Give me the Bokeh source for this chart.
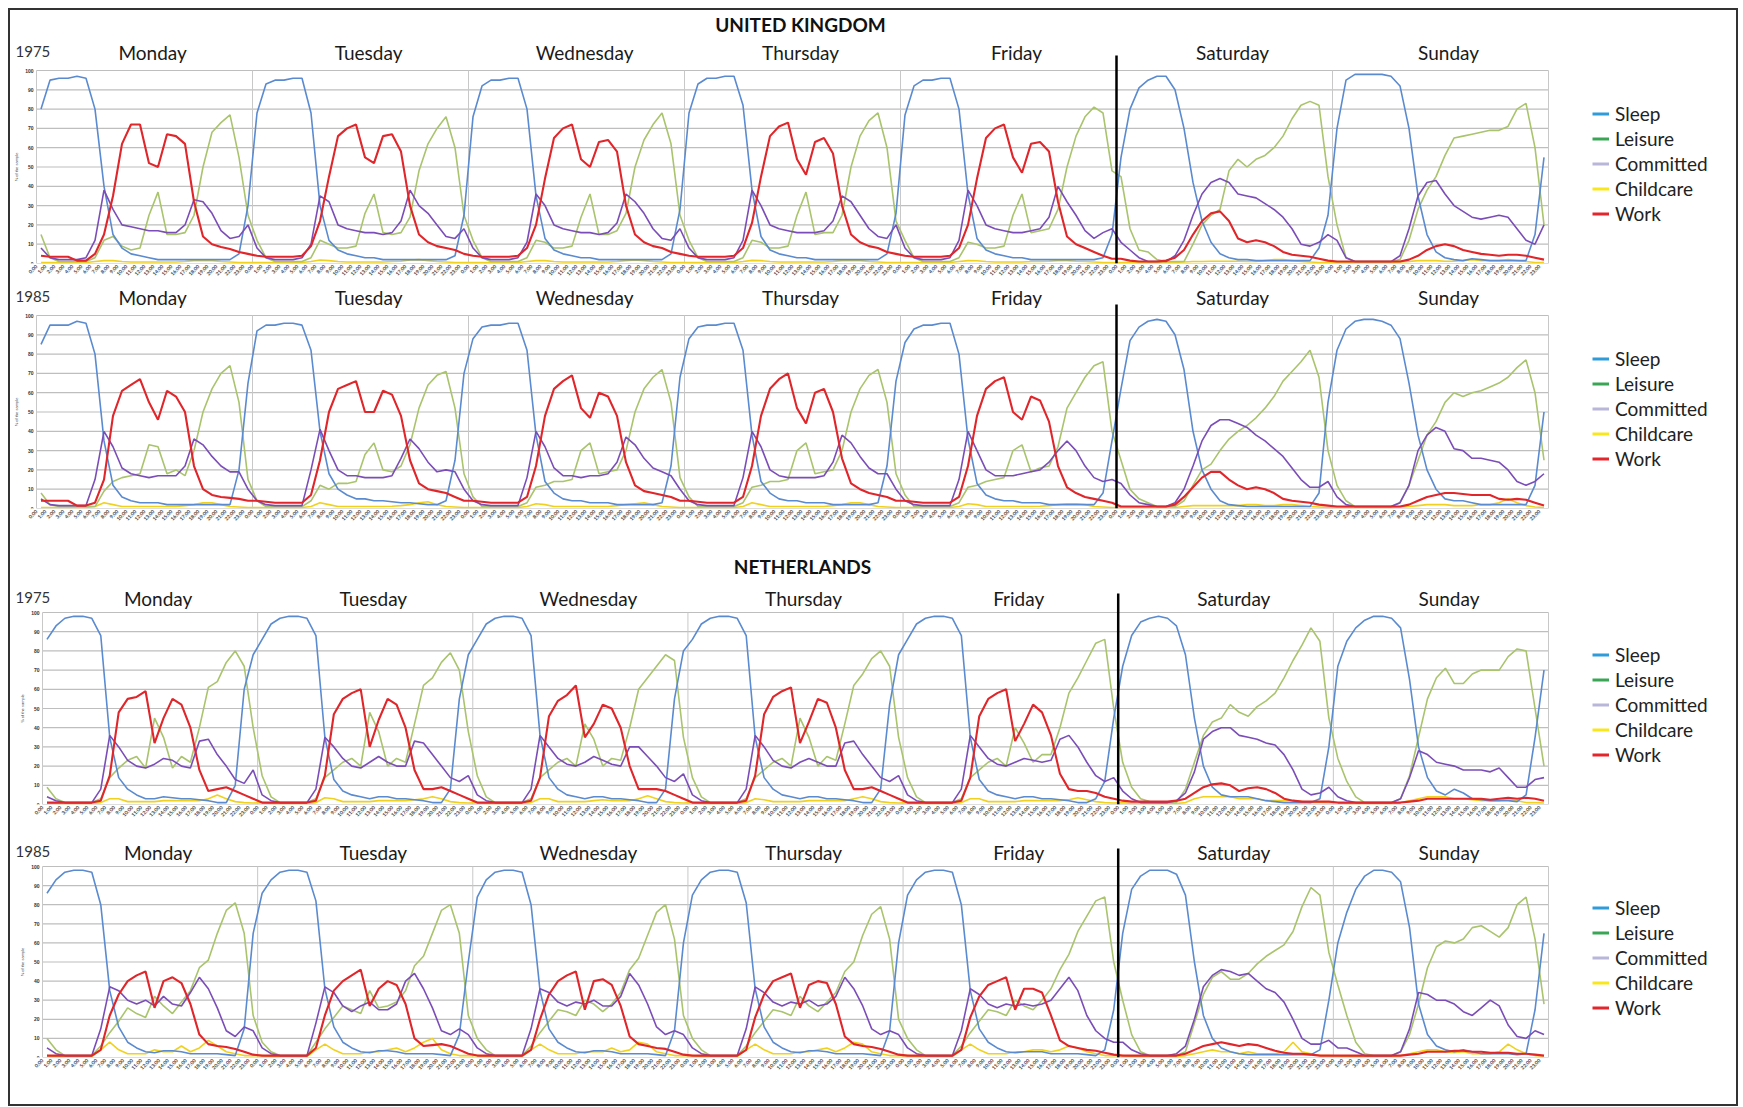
import math
from bokeh.plotting import figure
from bokeh.models import ColumnDataSource, FixedTicker, Label, Legend, LegendItem, Range1d
from bokeh.layouts import column
from bokeh.embed import file_html
from bokeh.resources import INLINE

# ---------------- data ----------------
DAYS = ["Monday", "Tuesday", "Wednesday", "Thursday", "Friday", "Saturday", "Sunday"]
HOUR_LABELS = [f"{h}:00" for h in range(24)]
SERIES = ["Sleep", "Leisure", "Committed", "Childcare", "Work"]
Y_TICKS = list(range(0, 101, 10))

# United Kingdom 1975 (% of the sample, hourly, Mon..Sun)
UK75_SLEEP = [
    80, 95, 96, 96, 97, 96, 80, 40, 15, 8, 5, 4, 3, 2, 2, 2, 2, 2, 2, 2, 2, 2, 5, 30,
    78, 93, 95, 95, 96, 96, 78, 30, 12, 7, 5, 4, 3, 3, 2, 2, 2, 2, 2, 2, 2, 2, 4, 25,
    76, 92, 95, 95, 96, 96, 80, 35, 13, 7, 5, 4, 3, 3, 2, 2, 2, 2, 2, 2, 2, 2, 5, 28,
    78, 93, 96, 96, 97, 97, 82, 38, 14, 7, 5, 4, 3, 3, 2, 2, 2, 2, 2, 2, 2, 2, 5, 26,
    77, 92, 95, 95, 96, 96, 80, 36, 13, 7, 5, 4, 3, 3, 2, 2, 2, 2, 2, 2, 2, 2, 3, 15,
    55, 80, 91, 95, 97, 97, 90, 70, 42, 22, 11, 5, 3, 2, 2, 1.5, 1.5, 1.5, 1.5, 1.5, 1.5, 1.5, 8, 25,
    70, 95, 98, 98, 98, 98, 97, 92, 70, 35, 15, 6, 3, 2, 1.5, 2.5, 2, 1.5, 1.5, 1.5, 1.5, 1.5, 15, 55,
]
UK75_LEISURE = [
    15, 3, 1, 1, 1, 1, 3, 12, 14, 9, 7, 8, 25, 37, 15, 15, 16, 25, 50, 68, 73, 77, 55, 25,
    12, 3, 1, 1, 1, 1, 3, 12, 10, 8, 8, 9, 26, 36, 16, 15, 16, 24, 48, 62, 70, 76, 60, 25,
    12, 3, 1, 1, 1, 1, 3, 12, 11, 8, 8, 9, 24, 36, 15, 15, 17, 26, 50, 64, 72, 78, 62, 25,
    12, 3, 1, 1, 1, 1, 3, 12, 11, 8, 8, 9, 25, 37, 15, 16, 16, 25, 50, 66, 74, 78, 60, 22,
    12, 3, 1, 1, 1, 1, 3, 11, 10, 8, 8, 9, 25, 36, 16, 17, 18, 28, 50, 66, 76, 81, 78, 48,
    45, 18, 7, 6, 2, 1, 1, 1, 10, 20, 25, 28, 48, 54, 50, 54, 56, 60, 66, 75, 82, 84, 82, 45,
    20, 3, 1, 1, 1, 1, 1, 2, 12, 28, 38, 45, 56, 65, 66, 67, 68, 69, 69, 71, 80, 83, 60, 20,
]
UK75_COMMITTED = [
    8, 3, 2, 2, 2, 3, 12, 38, 28, 20, 19, 18, 17, 17, 16, 16, 20, 33, 32, 26, 17, 13, 14, 20,
    8, 3, 2, 2, 2, 3, 10, 35, 32, 20, 18, 17, 16, 16, 15, 16, 22, 38, 30, 26, 20, 14, 13, 18,
    8, 3, 2, 2, 2, 3, 11, 36, 30, 20, 18, 17, 16, 16, 15, 16, 21, 36, 32, 26, 18, 13, 12, 18,
    8, 3, 2, 2, 2, 3, 12, 38, 30, 20, 18, 17, 16, 16, 16, 17, 22, 35, 32, 25, 18, 14, 13, 20,
    8, 3, 2, 2, 2, 3, 12, 38, 30, 20, 18, 17, 16, 16, 17, 18, 24, 40, 32, 25, 17, 13, 16, 18,
    11, 7, 3, 1, 1, 1, 4, 12, 25, 36, 42, 44, 42, 36, 35, 34, 31, 28, 24, 18, 10, 9, 11, 15,
    12, 3, 1, 1, 1, 1, 1, 4, 18, 35, 42, 43, 36, 30, 27, 24, 23, 24, 25, 24, 18, 12, 10, 20,
]
UK75_CHILDCARE = [
    0.5, 0.5, 0.5, 0.5, 0.5, 0.5, 1, 1.5, 1.5, 1, 0.8, 0.8, 0.8, 0.8, 0.8, 0.8, 1, 1.5, 1.5, 1.5, 1, 0.8, 0.5, 0.5,
    0.5, 0.5, 0.5, 0.5, 0.5, 0.5, 1, 1.8, 1.5, 1, 0.8, 0.8, 0.8, 0.8, 0.8, 1, 1.2, 1.8, 2, 1.5, 1, 0.8, 0.5, 0.5,
    0.5, 0.5, 0.5, 0.5, 0.5, 0.5, 1, 1.5, 1.5, 1, 0.8, 0.8, 0.8, 0.8, 0.8, 0.8, 1, 1.5, 1.8, 1.5, 1, 0.8, 0.5, 0.5,
    0.5, 0.5, 0.5, 0.5, 0.5, 0.5, 1, 1.6, 1.5, 1, 0.8, 0.8, 0.8, 0.8, 0.8, 0.8, 1, 1.5, 1.5, 1.5, 1, 0.8, 0.5, 0.5,
    0.5, 0.5, 0.5, 0.5, 0.5, 0.5, 1, 1.5, 1.4, 1, 0.8, 0.8, 0.8, 0.8, 1, 1, 1.2, 1.5, 1.5, 1.2, 1, 0.8, 0.5, 0.5,
    0.5, 0.5, 0.5, 0.5, 0.5, 0.5, 0.5, 0.8, 1, 1, 1.2, 1.2, 1.2, 1.2, 1, 1, 1.5, 2, 2, 1.5, 1, 0.8, 0.5, 0.5,
    0.5, 0.5, 0.5, 0.5, 0.5, 0.5, 0.5, 0.8, 1, 1.5, 1.5, 1.5, 1.2, 1.2, 1.5, 2, 1.5, 1.5, 1.5, 2, 1.5, 1, 0.5, 0.5,
]
UK75_WORK = [
    4, 3.5, 3.5, 3.5, 1.5, 1.5, 5, 15, 35, 62, 72, 72, 52, 50, 67, 66, 62, 32, 14, 10, 8.5, 7.5, 6, 5,
    4, 3.5, 3.5, 3.5, 3.5, 4, 9, 22, 45, 66, 70, 72, 55, 52, 66, 67, 58, 30, 15, 11, 9, 8, 7, 5,
    4, 3.5, 3.5, 3.5, 3.5, 4, 8, 20, 44, 65, 70, 72, 54, 50, 63, 64, 58, 30, 15, 11, 9, 8, 6, 5,
    4, 3.5, 3.5, 3.5, 3.5, 4, 8, 21, 45, 66, 71, 73, 54, 46, 63, 65, 57, 30, 15, 11, 9, 8, 6, 5,
    4, 3.5, 3.5, 3.5, 3.5, 4, 8, 20, 44, 65, 70, 72, 55, 47, 62, 63, 58, 32, 14, 10, 8, 6, 4, 2.5,
    2.5, 1.5, 1, 1, 1, 1.5, 3, 7, 15, 22, 26, 27, 22, 13, 11, 12, 11, 9, 6, 4.5, 4, 3.5, 2.5, 1.5,
    1, 1, 1, 1, 1, 1, 1, 1, 2, 4, 7, 9, 10, 9, 7, 6, 5, 4.5, 4, 4.5, 4.5, 4, 3, 2,
]

# United Kingdom 1985
UK85_SLEEP = [
    85, 95, 95, 95, 97, 96, 80, 35, 12, 6, 4, 3, 3, 3, 2, 2, 2, 2, 2, 2, 2, 2, 20, 65,
    92, 95, 95, 96, 96, 95, 82, 40, 18, 10, 7, 5, 5, 4, 4, 3.5, 3, 3, 2.5, 2, 2, 4, 25, 70,
    88, 94, 95, 95, 96, 96, 82, 38, 14, 8, 5, 4, 4, 3, 3, 3, 2, 2, 2, 2, 2, 3, 22, 68,
    88, 94, 95, 95, 96, 96, 82, 38, 14, 8, 5, 4, 4, 3, 3, 3, 2, 2, 2, 2, 2, 3, 22, 66,
    86, 93, 95, 95, 96, 96, 80, 36, 13, 7, 5, 4, 4, 3, 3, 3, 2, 2, 2, 2, 2, 2, 8, 35,
    62, 87, 94, 97, 98, 97, 90, 72, 40, 20, 10, 4, 2, 1.5, 1, 1, 1, 1, 1, 1, 1, 1, 8, 55,
    82, 93, 97, 98, 98, 97, 95, 88, 65, 38, 20, 10, 5, 4, 4, 3, 2, 2, 2, 2, 2, 2, 12, 50,
]
UK85_LEISURE = [
    8, 2, 1, 1, 1, 1, 1, 9, 14, 16, 17, 18, 33, 32, 18, 20, 17, 30, 50, 62, 70, 74, 55, 15,
    4, 1, 1, 1, 1, 1, 4, 12, 10, 13, 13, 14, 28, 34, 20, 19, 22, 33, 52, 64, 69, 71, 52, 18,
    6, 1, 1, 1, 1, 1, 3, 11, 12, 14, 14, 15, 30, 34, 18, 19, 20, 30, 50, 62, 68, 72, 55, 16,
    6, 1, 1, 1, 1, 1, 3, 11, 12, 14, 14, 15, 30, 34, 18, 19, 20, 30, 50, 62, 69, 72, 55, 18,
    7, 1, 1, 1, 1, 1, 3, 11, 12, 14, 15, 16, 30, 33, 19, 21, 22, 32, 52, 60, 68, 74, 76, 40,
    25, 10, 5, 3, 1, 1, 1, 4, 12, 20, 23, 30, 36, 40, 43, 47, 52, 58, 66, 71, 76, 82, 68, 30,
    12, 4, 1, 1, 1, 1, 1, 3, 12, 25, 38, 45, 55, 60, 58, 60, 61, 63, 65, 68, 73, 77, 60, 25,
]
UK85_COMMITTED = [
    5, 2, 1.5, 1.5, 1.5, 1.5, 15, 40, 32, 21, 18, 17, 16, 17, 17, 17, 22, 36, 33, 27, 22, 19, 19, 10,
    4, 2, 1.5, 1.5, 1.5, 1.5, 20, 41, 30, 20, 17, 17, 16, 16, 16, 17, 26, 36, 31, 24, 19, 20, 19, 10,
    4, 2, 1.5, 1.5, 1.5, 1.5, 16, 40, 32, 21, 17, 17, 16, 17, 17, 18, 24, 37, 33, 26, 21, 19, 17, 10,
    4, 2, 1.5, 1.5, 1.5, 1.5, 16, 40, 32, 20, 17, 16, 16, 16, 16, 17, 24, 38, 34, 27, 21, 18, 18, 10,
    4, 2, 1.5, 1.5, 1.5, 1.5, 15, 40, 30, 20, 17, 17, 17, 18, 19, 20, 24, 30, 35, 30, 22, 16, 14, 15,
    13, 7, 3, 2, 1, 1, 3, 10, 22, 35, 43, 46, 46, 44, 42, 38, 35, 31, 27, 21, 15, 11, 11, 14,
    6, 2, 1, 1, 1, 1, 1, 3, 12, 30, 38, 42, 40, 31, 30, 26, 26, 25, 24, 20, 14, 12, 14, 18,
]
UK85_CHILDCARE = [
    0.5, 0.5, 0.5, 0.5, 0.5, 0.5, 1, 3, 2, 1, 1, 1, 1, 1, 1, 1, 1.5, 2, 3, 3, 2, 1, 0.8, 0.5,
    0.5, 0.5, 0.5, 0.5, 0.5, 0.5, 1, 3, 2, 1, 1, 1, 1, 1, 1, 1.2, 1.5, 2, 3, 3.5, 2, 1, 0.8, 0.5,
    0.5, 0.5, 0.5, 0.5, 0.5, 0.5, 1, 2.5, 2, 1, 1, 1, 1, 1, 1, 1, 1.5, 2, 2.5, 3, 2, 1, 0.8, 0.5,
    0.5, 0.5, 0.5, 0.5, 0.5, 0.5, 1, 3, 2, 1, 1, 1, 1, 1, 1, 1, 1.5, 2, 3, 3, 2, 1, 0.8, 0.5,
    0.5, 0.5, 0.5, 0.5, 0.5, 0.5, 1, 2.5, 2, 1, 1, 1, 1, 1, 1, 1.2, 1.5, 2, 2.5, 2.5, 2, 1, 0.8, 0.5,
    0.5, 0.5, 0.5, 0.5, 0.5, 0.5, 0.5, 1, 1.5, 1.5, 1.5, 1.5, 1.5, 1.5, 2, 2, 1.5, 1.5, 2, 2, 1.5, 1, 0.8, 0.5,
    0.5, 0.5, 0.5, 0.5, 0.5, 0.5, 0.5, 0.8, 1, 1.5, 2, 2, 2, 1.5, 1.5, 1.5, 2, 2, 3, 5, 3, 1.5, 0.8, 0.5,
]
UK85_WORK = [
    4, 4, 4, 4, 1.5, 1.5, 3, 15, 48, 61, 64, 67, 55, 46, 61, 58, 50, 22, 10, 7, 6, 5.5, 5, 4,
    4, 3.5, 3, 3, 3, 3, 7, 25, 50, 62, 64, 66, 50, 50, 61, 59, 48, 25, 13, 10, 9, 8, 6, 4,
    4, 3.5, 3, 3, 3, 3, 6, 22, 48, 62, 66, 69, 52, 47, 60, 58, 48, 24, 12, 9, 8, 7, 6, 4,
    4, 3.5, 3, 3, 3, 3, 6, 22, 48, 62, 67, 70, 52, 44, 60, 62, 50, 26, 13, 10, 8, 7, 6, 4,
    4, 3.5, 3, 3, 3, 3, 6, 22, 48, 62, 66, 68, 50, 46, 58, 56, 45, 22, 11, 8, 6, 5, 4, 3,
    1, 1, 1, 1, 1, 1, 2, 6, 11, 16, 19, 19, 15, 12, 10, 11, 10, 8, 5, 4, 3.5, 3, 2, 1.5,
    1, 1, 1, 1, 1, 1, 1, 1, 2, 4, 6, 7, 8, 8, 7.5, 7, 7, 7, 5, 4.5, 5, 4.5, 3, 1.5,
]

# Netherlands 1975
NL75_SLEEP = [
    86, 93, 97, 98, 98, 97, 88, 35, 14, 8, 5, 3, 3, 4, 3.5, 3, 3, 2.5, 2, 1, 1, 10, 60, 78,
    86, 94, 97, 98, 98, 97, 88, 35, 13, 7, 5, 4, 3, 4, 4, 3, 3, 2.5, 2, 1, 1, 8, 55, 78,
    86, 94, 97, 98, 98, 97, 88, 36, 14, 8, 5, 4, 3, 4, 4, 3, 3, 2.5, 2, 1, 1, 8, 55, 80,
    86, 94, 97, 98, 98, 97, 88, 35, 14, 8, 5, 4, 3, 4, 4, 3, 3, 2.5, 2, 1, 1, 8, 52, 78,
    86, 94, 97, 98, 98, 97, 88, 35, 13, 7, 5, 4, 3, 4, 4, 3, 3, 2.5, 2, 1, 1, 3, 12, 45,
    72, 88, 95, 97, 98, 97, 93, 78, 45, 20, 9, 5, 4, 4, 4, 3, 2, 1.5, 1, 1, 1, 1, 3, 30,
    72, 85, 92, 96, 98, 98, 97, 92, 65, 30, 14, 7, 5, 8, 6, 3, 2.5, 2, 2, 2, 1.5, 5, 35, 70,
]
NL75_LEISURE = [
    9, 3, 1, 1, 1, 1, 3, 14, 19, 23, 25, 19, 45, 35, 19, 25, 22, 40, 61, 64, 74, 80, 72, 40,
    15, 4, 1, 1, 1, 1, 3, 14, 18, 22, 24, 20, 48, 38, 20, 24, 22, 42, 62, 66, 74, 79, 70, 38,
    15, 4, 1, 1, 1, 1, 3, 14, 18, 22, 24, 20, 42, 34, 20, 24, 23, 40, 60, 66, 72, 78, 75, 35,
    14, 4, 1, 1, 1, 1, 3, 14, 18, 22, 24, 20, 45, 35, 20, 25, 23, 42, 62, 68, 76, 80, 72, 35,
    14, 4, 1, 1, 1, 1, 3, 14, 18, 22, 24, 20, 40, 32, 22, 26, 26, 40, 58, 66, 75, 84, 86, 50,
    22, 9, 3, 1.5, 1, 1, 1, 8, 22, 36, 43, 45, 52, 48, 46, 51, 54, 58, 66, 75, 83, 92, 85, 45,
    24, 12, 4, 1, 1, 1, 1, 3, 15, 35, 55, 66, 71, 63, 63, 68, 70, 70, 70, 77, 81, 80, 50, 20,
]
NL75_COMMITTED = [
    4, 2, 1, 1, 1, 1, 8, 36, 30, 23, 20, 19, 21, 24, 23, 20, 19, 33, 34, 26, 20, 13, 11, 18,
    5, 2, 1, 1, 1, 1, 8, 35, 30, 24, 20, 19, 22, 25, 22, 20, 20, 33, 32, 26, 20, 14, 12, 15,
    5, 2, 1, 1, 1, 1, 8, 36, 30, 24, 21, 20, 22, 25, 23, 21, 20, 30, 30, 25, 20, 14, 12, 16,
    5, 2, 1, 1, 1, 1, 8, 36, 30, 23, 20, 19, 22, 24, 22, 20, 20, 32, 33, 26, 20, 14, 12, 15,
    5, 2, 1, 1, 1, 1, 8, 36, 30, 24, 21, 20, 22, 24, 23, 22, 23, 34, 36, 30, 22, 15, 12, 14,
    7, 3, 1, 1, 1, 1, 2, 6, 17, 34, 38, 40, 40, 36, 35, 34, 32, 31, 26, 18, 8, 5, 6, 9,
    4, 2, 1, 1, 1, 1, 1, 3, 14, 28, 26, 22, 21, 20, 18, 18, 18, 17, 19, 14, 9, 9, 13, 14,
]
NL75_CHILDCARE = [
    1, 0.5, 0.5, 0.5, 0.5, 0.5, 1, 3, 3, 1.5, 1.5, 1.5, 1.5, 2, 2, 2, 2, 2, 3, 5, 3, 1.5, 1, 0.8,
    1, 0.5, 0.5, 0.5, 0.5, 0.5, 1, 3.5, 3, 1.5, 1.5, 1.5, 1.5, 2, 2, 2, 2, 2.5, 3, 4, 3, 1.5, 1, 0.8,
    1, 0.5, 0.5, 0.5, 0.5, 0.5, 1, 3, 3, 1.5, 1.5, 1.5, 1.5, 2, 2.5, 2, 2, 2, 3, 4.5, 3, 1.5, 1, 0.8,
    1, 0.5, 0.5, 0.5, 0.5, 0.5, 1, 3, 2.5, 1.5, 1.5, 1.5, 1.5, 2, 2, 2, 2, 2, 3, 4, 3, 1.5, 1, 0.8,
    1, 0.5, 0.5, 0.5, 0.5, 0.5, 1, 3, 3, 1.5, 1.5, 1.5, 1.5, 2, 2, 2, 2, 2, 2.5, 3.5, 2.5, 1.5, 1, 0.8,
    1, 0.5, 0.5, 0.5, 0.5, 0.5, 0.5, 1, 3, 4, 4, 4, 4, 3, 3, 3, 2, 2, 2, 2, 1.5, 1, 1, 0.8,
    0.8, 0.5, 0.5, 0.5, 0.5, 0.5, 0.5, 1, 2, 3, 4, 4, 4, 3, 3, 2.5, 2, 2, 2, 3, 2, 1, 1, 0.8,
]
NL75_WORK = [
    1, 1, 1, 1, 1, 1, 2, 15, 48, 55, 56, 59, 32, 45, 55, 52, 40, 18, 7, 8, 9, 7, 5, 3,
    1, 1, 1, 1, 1, 1, 2, 15, 47, 55, 58, 60, 30, 44, 55, 52, 40, 18, 8, 8, 9, 7, 5, 3,
    1, 1, 1, 1, 1, 1, 2, 14, 46, 54, 57, 62, 35, 42, 52, 50, 40, 20, 8, 8, 8, 7, 5, 3,
    1, 1, 1, 1, 1, 1, 2, 15, 47, 56, 59, 61, 32, 43, 55, 53, 40, 18, 8, 8, 9, 7, 5, 3,
    1, 1, 1, 1, 1, 1, 2, 14, 46, 55, 58, 60, 33, 42, 52, 48, 36, 16, 8, 7, 7, 6, 4, 3,
    2, 1.5, 1.5, 1.5, 1.5, 1.5, 2, 3, 6, 9, 10.5, 11, 10, 7, 8.5, 9, 8, 6, 3, 2, 1.5, 1.5, 1.5, 1.5,
    1, 1, 1, 1, 1, 1, 1, 1, 1.5, 2, 3, 3, 3, 3, 3, 3, 3, 2.5, 3, 3.5, 3, 3.5, 3, 2,
]

# Netherlands 1985
NL85_SLEEP = [
    86, 93, 97, 98, 98, 97, 80, 35, 16, 8, 5, 3, 2.5, 3.5, 3.5, 3, 2, 2, 2, 2, 1.5, 1, 15, 65,
    86, 93, 97, 98, 98, 97, 82, 36, 16, 8, 5, 3, 2.5, 3.5, 3.5, 3, 2, 2, 2, 2, 1.5, 1, 12, 50,
    84, 93, 97, 98, 98, 97, 80, 35, 15, 8, 5, 3, 2.5, 3.5, 3.5, 3, 2, 2, 2, 2, 1.5, 1, 14, 60,
    85, 93, 97, 98, 98, 97, 81, 36, 16, 8, 5, 3, 2.5, 3.5, 3.5, 3, 2, 2, 2, 2, 1.5, 1, 14, 60,
    85, 93, 97, 98, 98, 97, 80, 35, 15, 8, 5, 3, 2.5, 3, 3, 3, 2, 2, 2, 2, 1.5, 1, 4, 25,
    65, 88, 95, 98, 98, 98, 96, 85, 50, 22, 10, 5, 3, 2, 1.5, 1.5, 1.5, 1.5, 1.5, 1.5, 1.5, 1.5, 4, 30,
    60, 76, 88, 95, 98, 98, 97, 92, 68, 28, 12, 6, 4, 3, 4, 3, 2, 2, 2, 2, 1.5, 2, 25, 65,
]
NL85_LEISURE = [
    10, 4, 1, 1, 1, 1, 6, 13, 19, 26, 23, 21, 32, 27, 23, 29, 35, 47, 51, 65, 77, 81, 65, 22,
    8, 3, 1, 1, 1, 1, 8, 15, 21, 27, 25, 23, 35, 26, 27, 29, 35, 48, 53, 65, 77, 80, 65, 22,
    10, 4, 1, 1, 1, 1, 6, 13, 19, 25, 24, 22, 30, 28, 24, 28, 34, 46, 52, 64, 76, 80, 62, 22,
    10, 4, 1, 1, 1, 1, 6, 13, 19, 25, 24, 22, 32, 27, 24, 29, 34, 45, 50, 64, 75, 79, 62, 20,
    10, 4, 1, 1, 1, 1, 6, 13, 19, 25, 24, 22, 30, 27, 25, 30, 36, 46, 54, 66, 74, 82, 84, 50,
    30, 12, 3, 1, 1, 1, 1, 3, 18, 33, 42, 45, 41, 41, 44, 49, 53, 56, 59, 66, 79, 89, 85, 55,
    38, 22, 8, 2, 1, 1, 1, 3, 12, 28, 47, 58, 61, 60, 62, 68, 69, 66, 63, 68, 80, 84, 62, 28,
]
NL85_COMMITTED = [
    5, 2, 1, 1, 1, 1, 15, 37, 35, 30, 28, 30, 27, 32, 28, 27, 34, 42, 36, 26, 14, 11, 16, 14,
    5, 2, 1, 1, 1, 1, 18, 37, 34, 27, 24, 27, 29, 25, 25, 28, 40, 44, 36, 26, 14, 12, 15, 12,
    5, 2, 1, 1, 1, 1, 15, 36, 34, 29, 27, 29, 28, 30, 27, 27, 32, 44, 38, 28, 16, 12, 14, 12,
    5, 2, 1, 1, 1, 1, 15, 37, 34, 29, 27, 29, 28, 30, 27, 28, 32, 42, 36, 27, 15, 12, 14, 12,
    5, 2, 1, 1, 1, 1, 14, 36, 33, 28, 26, 28, 27, 28, 27, 28, 30, 36, 42, 35, 22, 14, 10, 8,
    8, 4, 2, 1, 1, 1, 2, 6, 20, 37, 43, 46, 45, 43, 44, 40, 36, 34, 29, 20, 10, 7, 7, 9,
    5, 5, 3, 1, 1, 1, 1, 3, 15, 34, 33, 30, 30, 28, 24, 22, 26, 30, 27, 17, 11, 10, 14, 12,
]
NL85_CHILDCARE = [
    1, 0.5, 0.5, 0.5, 0.5, 0.5, 4, 8, 4, 2, 2, 2, 4, 3, 3, 6, 3, 5, 9, 6, 3, 2, 1, 1,
    1, 0.5, 0.5, 0.5, 0.5, 0.5, 4, 7, 4, 2, 2, 2, 3, 3, 4, 5, 3, 5, 8, 10, 4, 2, 1, 1,
    1, 0.5, 0.5, 0.5, 0.5, 0.5, 4, 7, 4, 2, 2, 2, 3, 3, 3, 5, 3, 4, 8, 7, 3, 2, 1, 1,
    1, 0.5, 0.5, 0.5, 0.5, 0.5, 4, 7, 4, 2, 2, 2, 3, 3, 4, 5, 3, 5, 8, 7, 3, 2, 1, 1,
    1, 0.5, 0.5, 0.5, 0.5, 0.5, 4, 7, 4, 2, 2, 2, 3, 3, 4, 4, 3, 4, 6, 5, 3, 2, 1, 1,
    1, 0.5, 0.5, 0.5, 0.5, 0.5, 0.5, 1, 2, 3, 4, 3, 3, 2, 3, 2, 2, 2, 3, 8, 3, 2, 1, 1,
    0.8, 0.5, 0.5, 0.5, 0.5, 0.5, 0.5, 1, 2, 3, 4, 4, 3, 2.5, 3, 2, 2, 2, 3, 7, 4, 2, 1, 0.8,
]
NL85_WORK = [
    1, 1, 1, 1, 1, 1, 4, 22, 33, 40, 43, 45, 26, 40, 42, 39, 28, 12, 7, 6, 5.5, 4.5, 3, 1.5,
    1, 1, 1, 1, 1, 1, 5, 22, 35, 40, 43, 46, 27, 36, 40, 38, 28, 10, 6, 6.5, 7, 6, 4, 2,
    1, 1, 1, 1, 1, 1, 4, 20, 33, 40, 43, 45, 25, 40, 41, 38, 27, 11, 7, 6, 5, 4.5, 3, 1.5,
    1, 1, 1, 1, 1, 1, 4, 21, 33, 40, 42, 44, 26, 38, 40, 39, 28, 11, 7, 6, 5.5, 4.5, 3, 1.5,
    1, 1, 1, 1, 1, 1, 4, 21, 32, 38, 40, 42, 25, 36, 36, 34, 22, 9, 6, 5, 4, 3.5, 2.5, 1.5,
    1, 1, 1, 1, 1, 1, 1, 2, 4, 6, 7, 8, 7, 6, 7, 6.5, 5, 3.5, 2.5, 2, 2, 1.5, 1, 1,
    1, 1, 1, 1, 1, 1, 1, 1, 1.5, 2, 3, 3, 3, 3.5, 3.5, 3, 3, 2.5, 2.5, 2.5, 2, 2, 1.5, 1,
]

# ---------------- styling ----------------
FONT = "Lato"
LINE_COLORS = {"Sleep": "#5A8AD0", "Leisure": "#A9C46C", "Committed": "#7B4DB8",
               "Childcare": "#F0D21E", "Work": "#E0262A"}
LEGEND_COLORS = {"Sleep": "#2F9BD8", "Leisure": "#3AA655", "Committed": "#B8B7DA",
                 "Childcare": "#F8E71C", "Work": "#E3262C"}
DRAW_ORDER = ["Childcare", "Leisure", "Sleep", "Committed", "Work"]
FIG_W = 1726
N_HOURS = len(DAYS) * 24
X = [i + 0.5 for i in range(N_HOURS)]
NAN = float("nan")


def make_panel(year, vals, left_px, plot_w, plot_h, top, bottom,
               label_dy, year_dx, sep_up, title=None, title_px=0):
    for k, v in vals.items():
        assert len(v) == N_HOURS, (year, k, len(v))
    hpp = N_HOURS / plot_w          # hours per pixel
    upp = 100.0 / plot_h            # % units per pixel
    x_lo = -left_px * hpp
    x_hi = (FIG_W - left_px) * hpp
    y_hi = 100 + top * upp
    p = figure(width=FIG_W, height=top + plot_h + bottom,
               x_range=Range1d(x_lo, x_hi), y_range=Range1d(0, y_hi),
               min_border_left=0, min_border_right=0, min_border_top=0,
               min_border_bottom=bottom,
               toolbar_location=None, output_backend="svg",
               background_fill_color="white", border_fill_color="white")
    p.outline_line_color = None
    p.grid.visible = False

    # x axis (hour labels)
    p.xaxis.ticker = FixedTicker(ticks=list(range(N_HOURS)))
    p.xaxis.bounds = (0, N_HOURS)
    p.xaxis.major_label_overrides = {i: HOUR_LABELS[i % 24] for i in range(N_HOURS)}
    p.xaxis.major_label_orientation = math.pi / 4
    p.xaxis.major_label_text_font_size = "5px"
    p.xaxis.major_label_text_color = "#444444"
    p.xaxis.major_label_text_font_style = "bold"
    p.xaxis.major_label_text_font = FONT
    p.xaxis.major_label_standoff = 2
    p.xaxis.axis_line_color = None
    p.xaxis.major_tick_line_color = None
    p.xaxis.minor_tick_line_color = None
    p.xaxis.major_tick_out = 0
    p.xaxis.major_tick_in = 0
    p.xaxis.minor_tick_out = 0

    # y axis, pinned at the left edge of the day grid
    p.yaxis.fixed_location = 0
    p.yaxis.ticker = FixedTicker(ticks=Y_TICKS)
    p.yaxis.bounds = (0, 100)
    p.yaxis.major_label_text_font_size = "5px"
    p.yaxis.major_label_text_font_style = "bold"
    p.yaxis.major_label_text_color = "#333333"
    p.yaxis.major_label_standoff = 3
    p.yaxis.axis_line_color = None
    p.yaxis.major_tick_line_color = None
    p.yaxis.minor_tick_line_color = None
    p.yaxis.major_tick_out = 0
    p.yaxis.major_tick_in = 0
    p.yaxis.minor_tick_out = 0
    p.yaxis.axis_label = "% of the sample"
    p.yaxis.axis_label_text_font_size = "4px"
    p.yaxis.axis_label_text_font_style = "normal"
    p.yaxis.axis_label_standoff = 3

    # gridlines of the day grid
    p.segment(x0=[0] * len(Y_TICKS), x1=[N_HOURS] * len(Y_TICKS), y0=Y_TICKS, y1=Y_TICKS,
              line_color="#BEBEBE", line_width=1.2)
    bounds = [24 * d for d in range(len(DAYS) + 1)]
    p.segment(x0=bounds, x1=bounds, y0=[0] * len(bounds), y1=[100] * len(bounds),
              line_color="#C8C8C8", line_width=1)

    src = ColumnDataSource(dict(x=X, **vals))
    for name in DRAW_ORDER:
        p.line("x", name, source=src, line_color=LINE_COLORS[name],
               line_width=2.1 if name == "Work" else 1.6)

    # Friday / Saturday separator
    xsep = DAYS.index("Saturday") * 24
    p.segment(x0=[xsep], x1=[xsep], y0=[0], y1=[100 + sep_up * upp],
              line_color="black", line_width=2.5)

    # labels above the plot
    for d, day in enumerate(DAYS):
        p.add_layout(Label(x=d * 24 + 12.9, y=100 + label_dy * upp, text=day,
                           text_font=FONT, text_font_size="19px", text_color="#1a1a1a",
                           text_align="center", text_baseline="middle"))
    p.add_layout(Label(x=year_dx * hpp, y=100 + (label_dy + 1) * upp, text=year,
                       text_font=FONT, text_font_size="15px", text_color="#333333",
                       text_align="left", text_baseline="middle"))
    if title:
        p.add_layout(Label(x=title_px * hpp, y=100 + 46 * upp, text=title,
                           text_font=FONT, text_font_size="19px", text_font_style="bold",
                           text_color="#111111", text_align="center", text_baseline="middle"))

    # legend (colours as in the original key); key renderers hold no visible point
    items = []
    for name in SERIES:
        r = p.line(x=[NAN], y=[NAN], line_color=LEGEND_COLORS[name], line_width=3)
        items.append(LegendItem(label=name, renderers=[r]))
    leg = Legend(items=items, location=(left_px + plot_w + 44, 37),
                 label_text_font=FONT, label_text_font_size="19px", label_text_color="#222222",
                 glyph_width=17, glyph_height=25, label_height=25, label_standoff=6,
                 spacing=0, padding=0, margin=0,
                 border_line_alpha=0, background_fill_alpha=0)
    p.add_layout(leg)
    return p


def vals_of(sleep, leisure, committed, childcare, work):
    return {"Sleep": sleep, "Leisure": leisure, "Committed": committed,
            "Childcare": childcare, "Work": work}


p1 = make_panel("1975", vals_of(UK75_SLEEP, UK75_LEISURE, UK75_COMMITTED, UK75_CHILDCARE, UK75_WORK),
                left_px=26, plot_w=1512, plot_h=193, top=60, bottom=22,
                label_dy=18, year_dx=-21, sep_up=15,
                title="UNITED KINGDOM", title_px=764)
p2 = make_panel("1985", vals_of(UK85_SLEEP, UK85_LEISURE, UK85_COMMITTED, UK85_CHILDCARE, UK85_WORK),
                left_px=26, plot_w=1512, plot_h=193, top=30, bottom=32,
                label_dy=18, year_dx=-21, sep_up=11)
p3 = make_panel("1975", vals_of(NL75_SLEEP, NL75_LEISURE, NL75_COMMITTED, NL75_CHILDCARE, NL75_WORK),
                left_px=32, plot_w=1506, plot_h=192, top=72, bottom=32,
                label_dy=14, year_dx=-27, sep_up=19,
                title="NETHERLANDS", title_px=760)
p4 = make_panel("1985", vals_of(NL85_SLEEP, NL85_LEISURE, NL85_COMMITTED, NL85_CHILDCARE, NL85_WORK),
                left_px=32, plot_w=1506, plot_h=191, top=30, bottom=47,
                label_dy=14, year_dx=-27, sep_up=18)

layout = column(p1, p2, p3, p4, spacing=0, margin=(8, 0, 0, 8),
                styles={"border": "2px solid #333333"})

open("out.html", "w").write(file_html(layout, INLINE, "Time use"))
